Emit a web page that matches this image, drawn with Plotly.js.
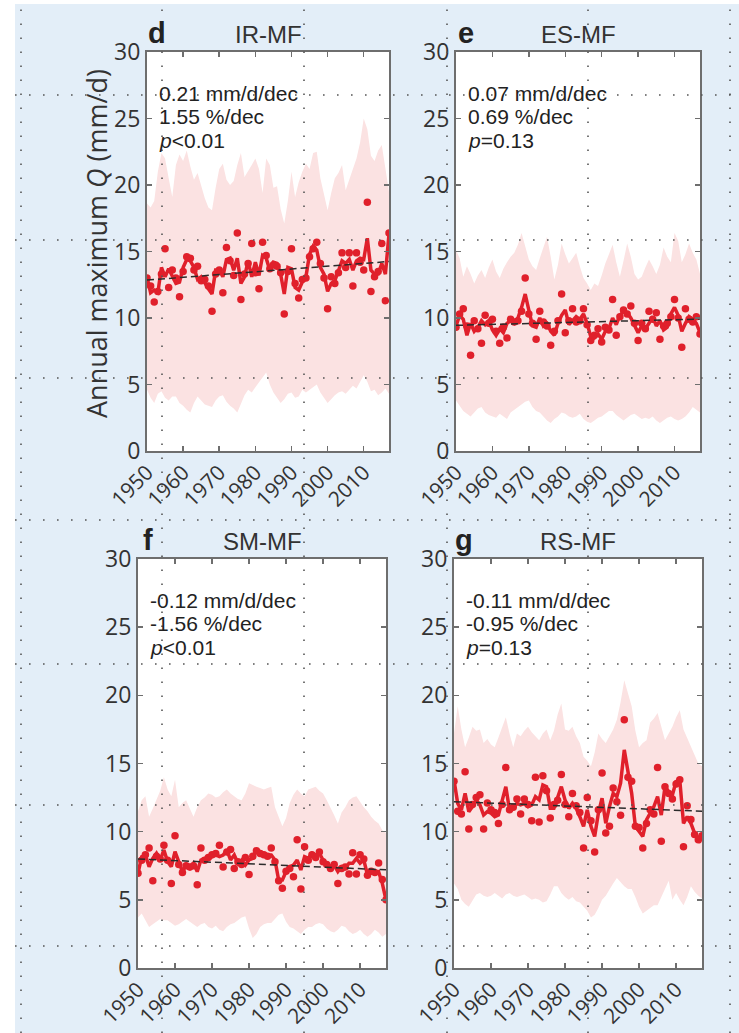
<!DOCTYPE html>
<html>
<head>
<meta charset="utf-8">
<script src="https://cdn.plot.ly/plotly-3.0.1.min.js"></script>
<style>html,body{margin:0;padding:0;background:#fff;}#chart{width:739px;height:1033px;}</style>
</head>
<body>
<div id="chart"></div>
<script>
// ---------- data ----------
var years = [1950,1951,1952,1953,1954,1955,1956,1957,1958,1959,
             1960,1961,1962,1963,1964,1965,1966,1967,1968,1969,
             1970,1971,1972,1973,1974,1975,1976,1977,1978,1979,
             1980,1981,1982,1983,1984,1985,1986,1987,1988,1989,
             1990,1991,1992,1993,1994,1995,1996,1997,1998,1999,
             2000,2001,2002,2003,2004,2005,2006,2007,2008,2009,
             2010,2011,2012,2013,2014,2015,2016,2017];
var xTickVals = [1950,1960,1970,1980,1990,2000,2010];
var yTickVals = [0,5,10,15,20,25,30];
var trendYears = [1950, 2017];

var panelLetters = ['d','e','f','g'];
var panelTitles = ['IR-MF','ES-MF','SM-MF','RS-MF'];
var statLines = [
  ['0.21 mm/d/dec','1.55 %/dec','<i>p</i>&lt;0.01'],
  ['0.07 mm/d/dec','0.69 %/dec','<i>p</i>=0.13'],
  ['-0.12 mm/d/dec','-1.56 %/dec','<i>p</i>&lt;0.01'],
  ['-0.11 mm/d/dec','-0.95 %/dec','<i>p</i>=0.13']
];
var yTitle = 'Annual maximum <i>Q</i> (mm/d)';

// Panel d: IR-MF
var dLine = [13.1,11.9,12.1,11.9,13.8,13.1,13.7,13.1,12.6,12.7,
             13.8,14.4,14.3,13.8,12.9,13.1,12.6,12.2,11.8,13.6,
             13.6,13.1,14.4,14.5,13.6,14.5,12.6,13.1,14.3,13.1,
             14.2,13.2,14.7,14.5,13.6,14.2,14.1,13.3,11.8,13.8,
             13.7,12.3,12.1,12.7,13.1,14.8,15.4,15.1,13.8,13.3,
             12.0,12.6,12.8,13.6,14.3,14.1,14.4,13.6,14.3,14.5,
             14.4,16.0,13.6,13.3,13.3,14.1,13.3,16.3];
var dDots = [13.0,12.4,11.2,12.0,13.3,15.2,12.3,13.6,13.0,11.6,
             13.5,14.6,14.5,13.6,13.9,12.8,12.9,12.4,10.5,13.3,
             13.6,11.9,15.3,14.3,13.2,16.4,11.4,13.3,14.1,15.6,
             13.4,12.2,15.7,14.7,13.7,14.0,13.9,13.4,10.3,13.5,
             15.2,12.6,11.5,12.9,13.0,14.6,15.2,15.7,14.1,13.0,
             10.7,13.1,12.6,13.4,14.9,13.8,14.9,12.4,14.9,14.2,
             13.6,18.7,12.0,13.1,13.5,15.6,11.3,16.4];
var dUpper = [18.6,18.3,18.8,21.0,22.4,22.0,20.5,19.1,21.5,22.3,
              21.8,22.6,21.4,20.4,20.9,20.0,19.0,18.3,18.1,19.8,
              21.2,21.6,20.4,20.0,20.3,21.5,22.4,20.6,21.0,21.5,
              22.0,21.2,19.4,22.0,21.5,19.8,19.9,18.2,17.1,18.8,
              21.0,19.1,20.2,21.0,21.6,21.2,22.4,22.5,20.5,19.2,
              18.1,19.4,20.5,20.9,21.5,19.6,20.4,21.3,22.0,23.2,
              25.0,24.2,22.2,21.8,22.6,23.0,21.4,19.5];
var dLower = [4.6,4.0,3.6,4.3,4.5,4.0,3.8,4.1,4.1,3.6,
              3.4,3.1,2.9,3.6,4.1,3.8,3.5,3.4,3.3,3.8,
              4.1,4.2,3.7,3.4,3.2,2.9,3.6,4.2,4.6,4.4,
              4.8,5.2,5.5,5.9,5.0,4.4,4.0,3.6,3.9,4.3,
              4.4,4.0,4.1,4.6,4.4,4.6,4.8,5.0,4.4,4.0,
              3.6,3.9,4.2,4.4,4.5,4.3,4.6,4.9,4.7,5.2,
              5.7,5.2,4.5,4.6,4.2,4.4,4.7,4.3];
var dTrend = [12.85, 14.25];

// Panel e: ES-MF
var eLine = [9.4,10.2,9.9,8.7,9.6,9.0,9.3,9.8,9.5,9.8,
             9.1,8.7,9.2,8.9,9.6,9.8,9.6,10.0,10.8,11.8,
             10.6,9.4,9.3,10.0,9.4,9.6,9.0,8.7,9.6,10.2,
             10.6,9.5,9.8,10.1,9.9,10.3,9.6,8.6,8.5,8.8,
             8.4,9.0,9.2,10.0,9.5,10.2,10.5,10.4,10.0,9.4,
             8.9,9.4,9.2,9.6,10.1,9.4,9.8,9.1,9.3,10.3,
             10.8,10.2,9.0,9.6,10.1,9.9,9.6,8.9];
var eDots = [9.3,10.3,10.7,9.4,7.2,9.8,9.2,8.1,10.2,9.6,
             9.9,9.0,8.1,9.3,8.5,9.9,9.7,9.8,10.5,13.0,
             10.3,9.6,8.4,10.5,9.7,9.4,7.95,9.0,9.8,11.8,
             8.9,9.8,10.7,9.7,9.8,10.7,9.5,8.3,8.7,9.2,
             8.2,9.3,9.1,11.4,8.7,10.1,10.6,10.3,10.9,9.6,
             8.3,9.6,9.2,10.5,9.9,10.4,8.4,9.4,9.6,10.1,
             11.4,10.0,7.8,10.7,9.9,9.7,10.1,8.8];
var eUpper = [15.1,14.5,13.1,13.9,13.3,12.6,13.2,13.6,13.0,13.8,
              14.4,13.5,13.0,13.7,14.2,14.6,14.9,15.5,16.4,15.4,
              14.4,13.9,13.6,14.5,15.3,16.1,14.6,12.9,14.0,15.6,
              14.8,14.1,14.5,14.9,13.9,13.0,12.6,12.1,12.6,12.4,
              13.2,14.1,14.8,15.5,14.2,13.1,14.3,15.6,14.6,13.3,
              12.9,13.1,13.8,14.4,13.9,13.3,14.0,15.3,14.6,14.2,
              16.4,15.8,14.2,14.8,15.6,14.9,14.4,13.3];
var eLower = [3.8,3.4,3.0,2.8,2.6,2.9,3.2,3.3,2.9,2.7,
              2.6,2.5,2.8,2.6,2.4,2.9,3.1,3.3,3.5,3.7,
              3.8,3.3,3.0,2.9,2.6,2.3,2.1,2.4,2.6,2.9,
              2.8,2.6,2.5,2.6,2.8,2.4,2.2,2.1,2.3,2.5,
              2.6,2.8,3.0,3.0,2.7,2.5,2.3,2.5,2.7,2.8,
              2.6,2.4,2.5,2.4,2.6,2.3,2.1,2.3,2.5,2.6,
              2.4,2.3,2.4,2.6,2.9,3.3,3.1,2.9];
var eTrend = [9.45, 9.92];

// Panel f: SM-MF
var fLine = [6.95,8.17,8.29,7.43,8.04,8.41,7.92,8.66,7.80,7.43,
             8.53,7.80,7.07,7.55,7.31,7.68,7.07,7.92,8.04,8.04,
             8.17,8.29,8.17,8.29,8.66,7.92,8.29,7.68,7.92,7.55,
             7.92,8.04,8.66,8.53,8.41,8.29,8.29,7.92,6.45,6.45,
             7.07,7.43,7.55,7.92,7.19,8.17,8.04,8.41,8.29,8.41,
             7.92,7.68,7.43,7.55,7.07,7.43,7.31,7.68,7.68,8.04,
             7.68,7.92,6.82,7.07,6.95,7.07,6.21,5.0];
var fDots = [6.95,7.9,8.3,8.8,6.4,8.2,8.0,9.0,7.9,6.2,
             9.7,7.6,7.0,7.5,7.4,7.5,6.1,8.8,7.9,8.1,
             8.3,8.4,9.0,7.4,8.5,8.7,7.3,7.8,7.6,8.1,
             6.85,8.2,8.6,8.4,8.3,8.2,8.8,7.8,6.4,5.85,
             7.1,7.3,6.7,9.4,5.8,8.9,7.9,8.3,8.1,8.5,
             7.8,7.6,7.3,7.6,6.2,7.3,7.4,6.9,8.45,6.9,
             8.3,8.0,6.8,7.1,7.0,7.7,6.5,5.0];
var fUpper = [11.5,12.3,12.6,11.1,11.7,12.3,13.0,14.0,13.1,12.6,
              13.8,11.8,12.1,12.3,11.7,11.1,11.8,12.3,12.5,12.8,
              12.7,12.5,12.6,12.9,13.1,12.8,12.6,12.4,12.3,12.8,
              13.55,13.4,13.3,13.2,13.1,13.2,13.3,11.8,11.1,10.4,
              11.0,12.1,12.7,13.1,12.8,12.6,13.1,13.2,13.3,13.0,
              12.8,12.3,11.8,11.2,10.6,11.4,11.8,12.3,12.5,12.6,
              12.2,11.8,11.5,11.1,10.8,10.6,10.1,9.9];
var fLower = [3.7,4.0,3.5,3.0,3.2,3.4,3.6,3.5,3.5,3.3,
              3.1,3.2,3.4,3.6,3.4,3.2,3.0,3.2,3.3,3.0,
              2.9,3.1,2.8,2.7,3.0,3.2,3.3,3.5,3.7,3.8,
              2.9,2.2,2.5,3.0,3.2,3.3,3.3,3.6,3.9,4.0,
              3.4,3.0,2.9,2.7,2.5,2.8,3.0,3.0,3.2,3.3,
              3.2,2.9,2.7,2.6,2.8,3.1,3.0,2.7,2.5,2.6,
              2.8,2.5,2.3,2.5,2.8,2.6,2.3,2.5];
var fTrend = [8.0, 7.2];

// Panel g: RS-MF
var gLine = [13.79,12.08,11.59,12.81,11.47,11.84,12.33,11.96,11.22,11.47,
             11.35,11.1,11.22,12.33,13.3,11.59,11.71,12.08,11.96,12.08,
             11.84,11.96,12.57,12.33,13.43,13.3,11.71,11.71,12.45,13.3,
             12.33,11.71,12.08,11.71,11.1,10.39,11.59,10.39,9.65,11.35,
             12.45,10.61,11.84,12.81,12.57,13.55,16.0,14.28,12.81,10.39,
             10.0,9.65,10.86,11.35,11.84,12.57,11.22,13.3,12.94,12.69,
             13.67,13.79,10.61,11.1,10.61,9.9,9.53,9.78];
var gDots = [13.7,11.5,11.3,14.4,10.2,12.0,12.5,12.7,10.2,12.1,
             11.6,11.4,10.6,12.0,14.7,11.6,11.8,12.4,11.3,12.4,
             12.0,10.8,14.0,10.7,14.1,13.0,11.0,12.0,12.3,14.2,
             12.0,11.1,12.8,11.9,11.4,8.8,12.5,10.8,8.5,11.6,
             14.3,9.9,10.4,13.2,12.2,11.2,18.2,14.0,13.7,10.4,
             10.3,8.8,10.6,11.6,11.3,14.7,9.3,13.3,12.8,12.4,
             13.5,13.8,8.9,11.9,10.9,9.8,9.4,9.7];
var gUpper = [17.2,19.2,17.5,16.2,16.9,17.7,17.4,17.5,16.5,16.8,
              16.4,16.2,16.9,17.6,18.4,17.2,16.2,17.2,17.0,17.4,
              17.7,17.3,17.0,16.7,17.2,17.5,16.7,17.4,18.6,19.4,
              17.5,17.4,17.7,17.0,16.5,15.5,15.2,14.8,15.8,17.2,
              16.8,16.5,17.0,17.5,18.2,19.5,21.1,20.2,19.2,17.4,
              16.2,16.5,16.7,18.0,18.3,18.7,17.6,16.7,17.2,17.7,
              18.4,18.9,17.5,16.9,16.2,15.6,15.0,14.8];
var gLower = [6.2,5.8,5.0,4.7,4.5,5.0,5.4,5.5,5.3,5.2,
              5.3,5.5,5.3,5.1,5.4,5.5,5.3,5.2,5.3,5.4,
              5.2,5.0,5.1,5.0,4.8,4.9,5.4,6.0,6.0,5.5,
              5.2,5.0,5.2,4.9,4.8,4.5,4.2,3.7,3.9,4.4,
              5.0,5.3,5.8,6.2,6.6,6.3,6.0,5.8,5.8,5.2,
              4.5,4.0,4.2,4.4,4.6,4.6,5.2,5.8,6.4,5.0,
              5.5,5.0,4.6,5.2,6.0,5.6,5.3,5.1];
var gTrend = [12.2, 11.5];

// ---------- build ----------
var W = 739, H = 1033;
function px(x){ return x / W; }
function py(y){ return 1 - y / H; }

var panels = [
  {line:dLine, dots:dDots, up:dUpper, lo:dLower, trend:dTrend, ax:'', box:[147,389,52,451]},
  {line:eLine, dots:eDots, up:eUpper, lo:eLower, trend:eTrend, ax:'2', box:[456,700,52,451]},
  {line:fLine, dots:fDots, up:fUpper, lo:fLower, trend:fTrend, ax:'3', box:[138,386,559,968]},
  {line:gLine, dots:gDots, up:gUpper, lo:gLower, trend:gTrend, ax:'4', box:[454,702,559,968]}
];

var RED = '#e0202b';
var traces = [];
var layout = {
  width: W, height: H,
  margin: {l:0, r:0, t:0, b:0, pad:0},
  paper_bgcolor: '#e3eef8',
  plot_bgcolor: '#ffffff',
  showlegend: false,
  shapes: [], annotations: []
};

var FONT_TICK = '"Open Sans", "Noto Sans", sans-serif';
var axCommon = {
  showline:true, linecolor:'#6e6e6e', linewidth:2, mirror:'ticks',
  ticks:'inside', ticklen:5, tickwidth:1.5, tickcolor:'#6e6e6e',
  showgrid:false, zeroline:false, fixedrange:true
};

panels.forEach(function(p, i){
  var xa = 'x' + p.ax, ya = 'y' + p.ax;
  traces.push({x:years, y:p.lo, xaxis:xa, yaxis:ya, type:'scatter', mode:'lines',
               line:{width:0, color:'rgba(0,0,0,0)'}, hoverinfo:'skip'});
  traces.push({x:years, y:p.up, xaxis:xa, yaxis:ya, type:'scatter', mode:'lines',
               fill:'tonexty', fillcolor:'#fbe2e2', line:{width:0, color:'rgba(0,0,0,0)'}, hoverinfo:'skip'});
  traces.push({x:years, y:p.dots, xaxis:xa, yaxis:ya, type:'scatter', mode:'markers',
               marker:{size:7.5, color:RED}});
  traces.push({x:years, y:p.line, xaxis:xa, yaxis:ya, type:'scatter', mode:'lines',
               line:{width:3.5, color:RED}});
  traces.push({x:trendYears, y:p.trend, xaxis:xa, yaxis:ya, type:'scatter', mode:'lines',
               line:{width:1.5, color:'#2b2b2b', dash:'7px,4px'}});

  var b = p.box;
  var xKey = 'xaxis' + p.ax, yKey = 'yaxis' + p.ax;
  layout[xKey] = Object.assign({}, axCommon, {
    domain:[px(b[0]), px(b[1])], anchor:ya, range:[1950, 2017],
    tickmode:'array', tickvals:xTickVals, ticktext:xTickVals.map(String), tickangle:-45,
    tickfont:{family:FONT_TICK, size:21, color:'#333333'}, ticklabelstandoff:-1
  });
  layout[yKey] = Object.assign({}, axCommon, {
    domain:[py(b[3]), py(b[2])], anchor:xa, range:[0, 30],
    tickmode:'array', tickvals:yTickVals, ticktext:yTickVals.map(String),
    tickfont:{family:FONT_TICK, size:23, color:'#333333'}
  });

  var cx = (b[0] + b[1]) / 2;
  var ty = b[2] - 18;
  layout.annotations.push({xref:'paper', yref:'paper', x:px(b[0] + 10), y:py(ty - 1), text:'<b>' + panelLetters[i] + '</b>',
    showarrow:false, xanchor:'center', yanchor:'middle', font:{family:'Arial, "Liberation Sans", sans-serif', size:29, color:'#222'}});
  layout.annotations.push({xref:'paper', yref:'paper', x:px(cx), y:py(ty), text:panelTitles[i],
    showarrow:false, xanchor:'center', yanchor:'middle', font:{family:'Arial, "Liberation Sans", sans-serif', size:24, color:'#333'}});
  for (var k = 0; k < 3; k++) {
    layout.annotations.push({xref:'paper', yref:'paper', x:px(b[0] + 10), y:py(b[2] + 41 + k * 23.5), text:statLines[i][k],
      showarrow:false, xanchor:'left', yanchor:'middle', font:{family:'Arial, "Liberation Sans", sans-serif', size:21, color:'#222'}});
  }
});

// y axis title (panel d only)
layout.annotations.push({xref:'paper', yref:'paper', x:px(97), y:py(244), text:yTitle, textangle:-90,
  showarrow:false, xanchor:'center', yanchor:'middle', font:{family:FONT_TICK, size:27, color:'#333'}});

// white margins of the original scan
layout.shapes.push({type:'rect', xref:'paper', yref:'paper', x0:0, x1:px(15), y0:0, y1:1, fillcolor:'#ffffff', line:{width:0}, layer:'above'});
layout.shapes.push({type:'rect', xref:'paper', yref:'paper', x0:0, x1:1, y0:py(4), y1:1, fillcolor:'#ffffff', line:{width:0}, layer:'above'});

// dotted guide lines across the figure
var vLines = [21, 162, 304, 447, 588, 730];
var hLines = [95, 240, 378, 520, 664, 805, 946];
vLines.forEach(function(x){
  layout.shapes.push({type:'line', xref:'paper', yref:'paper', x0:px(x), x1:px(x), y0:0, y1:py(4),
    line:{color:'#555', width:1.6, dash:'1.6px,12.4px'}, layer:'above'});
});
hLines.forEach(function(y){
  layout.shapes.push({type:'line', xref:'paper', yref:'paper', x0:px(15), x1:1, y0:py(y), y1:py(y),
    line:{color:'#555', width:1.6, dash:'1.6px,12.4px'}, layer:'above'});
});

Plotly.newPlot('chart', traces, layout, {displayModeBar:false, staticPlot:true});
</script>
</body>
</html>
